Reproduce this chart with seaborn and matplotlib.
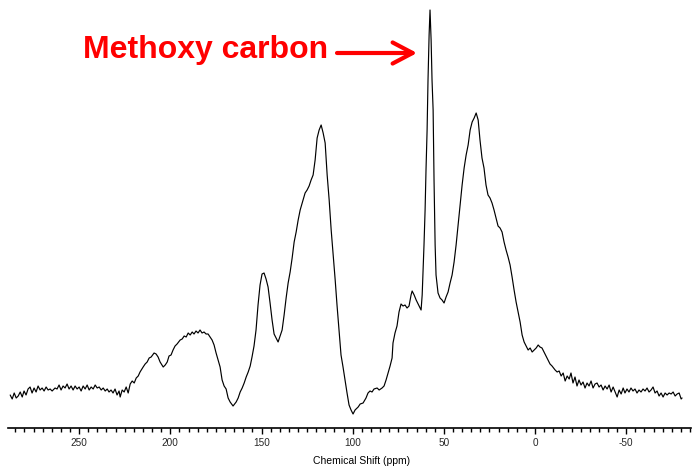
import numpy as np
import pandas as pd
import matplotlib
matplotlib.use("Agg")
import matplotlib.pyplot as plt
from matplotlib.ticker import MultipleLocator
import seaborn as sns

# ---- data (chemical shift in ppm, intensity in arbitrary units) ----
shift_baseline_left = [287.8, 286.7, 285.6, 284.5, 283.4, 282.3, 281.2, 280.2, 279.1, 278.0,
                       276.9, 275.8, 274.7, 273.6, 272.5, 271.4, 270.3, 269.2, 268.1, 267.0,
                       265.9, 264.8, 263.2, 262.1, 261.0, 259.9, 258.8, 257.7, 256.6, 255.5,
                       254.4, 253.3, 252.2, 251.1, 250.0, 248.9, 247.8, 246.7, 245.6, 244.5,
                       243.4, 242.3, 241.2, 240.1, 239.0, 237.9, 236.8, 235.7, 234.6, 233.6,
                       232.5, 231.4, 230.3, 229.2, 228.1, 227.5, 226.4, 225.3, 224.2, 223.1]
int_baseline_left = [33, 29, 35, 30, 32, 36, 31, 37, 33, 39,
                     41, 35, 40, 36, 42, 38, 40, 37, 41, 38,
                     39, 37, 40, 39, 43, 38, 42, 40, 44, 39,
                     42, 38, 42, 39, 41, 37, 42, 39, 43, 38,
                     41, 39, 43, 40, 41, 38, 40, 37, 39, 36,
                     38, 35, 39, 33, 37, 31, 38, 36, 41, 35]

shift_aromatic = [222.0, 220.9, 219.8, 218.7, 217.6, 216.6, 214.9, 213.8, 212.7, 211.6,
                  210.5, 208.9, 207.8, 206.7, 205.6, 203.9, 202.8, 201.7, 200.7, 199.6,
                  198.5, 197.4, 196.3, 194.6, 193.5, 192.4, 191.3, 190.2, 189.1, 188.0,
                  187.0, 185.9, 184.8, 183.7, 182.6, 181.5, 180.4, 179.3, 178.2, 177.1,
                  176.0, 174.9, 173.8, 172.7, 171.6, 170.5, 169.4, 168.3, 167.2, 165.6,
                  163.9, 162.8, 161.7, 160.6, 159.5, 158.4, 157.3, 156.2, 155.2, 154.1,
                  153.0, 151.9, 150.8, 149.7, 148.6, 147.5, 146.4, 145.3, 144.2, 143.1,
                  142.0, 140.9, 139.8, 138.7, 137.6, 136.5, 135.4, 134.3, 133.2, 132.1,
                  131.0, 129.9, 128.8, 127.2, 126.1, 125.0, 123.9, 122.8, 121.7, 120.6,
                  119.5, 118.4, 117.3, 116.2, 115.1, 114.0, 112.9, 111.8, 110.7, 109.6,
                  108.6, 107.5, 106.4, 105.3, 104.2, 103.1, 102.0, 100.9, 99.8]
int_aromatic = [44, 47, 45, 50, 52, 56, 61, 64, 66, 70,
                71, 75, 74, 71, 66, 61, 63, 66, 72, 73,
                78, 82, 84, 88, 89, 92, 91, 95, 93, 96,
                94, 97, 95, 98, 95, 96, 94, 94, 91, 88,
                83, 75, 68, 61, 48, 42, 39, 30, 26, 22,
                26, 30, 36, 40, 45, 51, 56, 62, 71, 82,
                98, 123, 143, 154, 155, 149, 141, 125, 108, 94,
                90, 86, 92, 98, 113, 130, 145, 156, 170, 186,
                196, 208, 218, 228, 235, 238, 242, 248, 253, 268,
                290, 298, 303, 295, 285, 253, 228, 198, 173, 148,
                123, 98, 73, 61, 48, 35, 23, 18, 14]

shift_aliphatic = [98.7, 97.0, 95.9, 94.3, 92.7, 91.6, 90.5, 89.4, 88.3, 86.6,
                   85.5, 83.9, 82.8, 81.7, 80.6, 79.5, 78.4, 77.9, 76.8, 75.7,
                   74.6, 73.5, 72.4, 71.3, 70.2, 69.1, 68.0, 67.4, 66.3, 65.2,
                   64.1, 63.0, 62.5, 61.9, 61.4, 60.9, 60.3, 59.8, 59.2, 58.7,
                   58.1, 57.6, 57.0, 56.5, 55.9, 55.4, 54.8, 54.3, 53.2, 52.1,
                   51.0, 49.9, 48.8, 47.7, 46.6, 45.5, 44.4, 43.3, 42.2, 41.1,
                   40.0, 38.9, 37.8, 36.7, 35.6, 34.5, 33.4, 32.3, 31.2, 30.2,
                   29.1, 28.0, 26.9, 25.8, 24.7, 23.6, 22.5, 21.4, 20.3, 19.2,
                   18.1, 17.0, 15.9, 14.8, 13.7, 12.6, 11.5, 10.4, 9.3, 8.2,
                   7.1, 6.0, 4.9, 3.8, 2.7, 1.6, 0.5]
int_aliphatic = [18, 21, 24, 25, 30, 35, 37, 36, 39, 40,
                 38, 40, 42, 48, 55, 62, 70, 85, 95, 102,
                 116, 124, 122, 123, 120, 122, 133, 137, 133, 128,
                 124, 120, 118, 133, 158, 183, 218, 258, 298, 348,
                 393, 418, 388, 348, 318, 248, 183, 153, 135, 130,
                 128, 125, 131, 136, 145, 153, 166, 183, 203, 223,
                 243, 260, 273, 283, 298, 306, 310, 315, 308, 288,
                 270, 260, 243, 233, 230, 225, 218, 210, 202, 200,
                 196, 186, 178, 171, 163, 151, 138, 126, 116, 106,
                 93, 86, 82, 78, 80, 76, 78]

shift_baseline_right = [-0.6, -1.7, -2.7, -3.8, -4.9, -6.0, -7.1, -8.2, -9.3, -11.0,
                        -12.1, -13.2, -14.3, -15.4, -16.5, -17.6, -18.7, -19.7, -20.8, -21.9,
                        -23.0, -24.1, -25.2, -26.3, -27.4, -28.5, -29.6, -30.7, -31.8, -32.9,
                        -34.0, -35.1, -36.2, -37.3, -38.4, -39.5, -40.6, -41.7, -42.8, -43.9,
                        -45.0, -46.1, -47.2, -48.3, -49.3, -50.4, -51.5, -52.6, -53.7, -54.8,
                        -55.9, -57.0, -58.1, -59.2, -60.3, -61.4, -62.5, -63.6, -64.7, -65.8,
                        -66.9, -68.0, -69.1, -70.2, -71.3, -72.4, -73.5, -74.6, -75.7, -76.8,
                        -77.9, -79.0, -80.1, -80.6]
int_baseline_right = [80, 83, 81, 80, 76, 72, 68, 64, 62, 58,
                      56, 57, 52, 55, 47, 52, 49, 55, 45, 51,
                      42, 48, 43, 46, 40, 45, 42, 47, 40, 44,
                      45, 41, 43, 38, 42, 39, 43, 36, 41, 36,
                      31, 38, 34, 40, 35, 39, 36, 40, 37, 39,
                      35, 38, 36, 39, 37, 40, 36, 38, 41, 35,
                      37, 32, 35, 31, 35, 33, 35, 34, 36, 32,
                      34, 35, 29, 30]

major_ticks = [250, 200, 150, 100, 50, 0, -50]
annotation_text = "Methoxy carbon"

# ---- assemble ----
spectrum = pd.DataFrame({
    "shift": shift_baseline_left + shift_aromatic + shift_aliphatic + shift_baseline_right,
    "intensity": int_baseline_left + int_aromatic + int_aliphatic + int_baseline_right,
})

sns.set_theme(style="white")
plt.rcParams["font.family"] = ["Liberation Sans", "DejaVu Sans"]

fig = plt.figure(figsize=(6.96, 4.67), dpi=100)
ax = fig.add_axes([8 / 696, 1 - 428 / 467, 683 / 696, 428 / 467])

sns.lineplot(data=spectrum, x="shift", y="intensity", ax=ax, color="black",
             linewidth=0.85, sort=False, estimator=None)

ax.set_xlim(289, -85.5)
ax.set_ylim(0, 428)
ax.set_ylabel("")
ax.set_yticks([])
for side in ("left", "right", "top"):
    ax.spines[side].set_visible(False)
ax.spines["bottom"].set_color("black")
ax.spines["bottom"].set_linewidth(1.2)

ax.set_xticks(major_ticks)
ax.set_xticklabels([str(t) for t in major_ticks])
ax.xaxis.set_minor_locator(MultipleLocator(5))
ax.tick_params(axis="x", which="major", direction="out", length=4.5, width=1.0,
               color="black", labelsize=7.2, pad=3, bottom=True)
ax.tick_params(axis="x", which="minor", direction="out", length=2.8, width=1.0,
               color="black", bottom=True)

ax.set_xlabel("Chemical Shift (ppm)", fontsize=7.5, color="black")
ax.xaxis.set_label_coords(0.517, -0.066)

ax.text(113.5, 378, annotation_text, ha="right", va="center", color="#ff0000",
        fontsize=23, fontweight="bold", family=["Liberation Sans", "DejaVu Sans"])
ax.annotate("", xy=(64.7, 375), xytext=(108.6, 375),
            arrowprops=dict(arrowstyle="->,head_length=0.72,head_width=0.38",
                            color="#ff0000", lw=3, mutation_scale=20,
                            shrinkA=0, shrinkB=0))

fig.savefig("out.png", dpi=100)
